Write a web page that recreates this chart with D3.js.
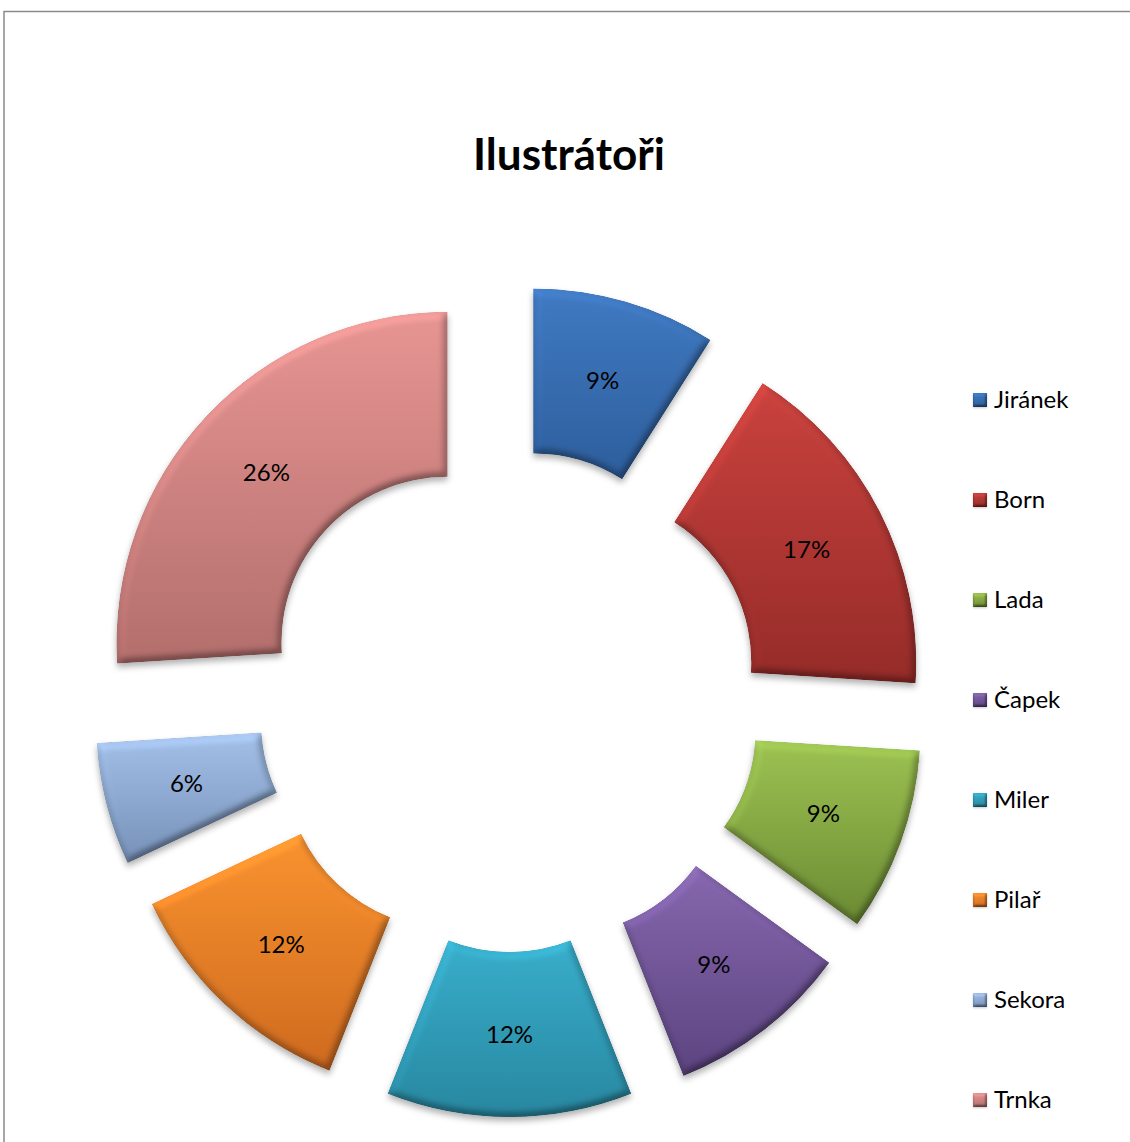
<!DOCTYPE html>
<html>
<head>
<meta charset="utf-8">
<script src="https://cdn.jsdelivr.net/npm/d3@7"></script>
<style>
  html, body { margin: 0; padding: 0; background: #fff; }
  svg { display: block; }
  text { font-family: Lato, "Open Sans", "Liberation Sans", sans-serif; fill: #000; }
</style>
</head>
<body>
<svg id="chart" width="1130" height="1142"></svg>
<script>
// ---- data ----
const title = "Ilustrátoři";
const categories = ["Jiránek", "Born", "Lada", "Čapek", "Miler", "Pilař", "Sekora", "Trnka"];
const shares = [9, 17, 9, 9, 12, 12, 6, 26];   // percent, as labelled

// ---- styles ----
const topColors    = ["#4079c1", "#c9423e", "#9cc151", "#8566ad", "#38adca", "#f7922f", "#a2bfe7", "#e59492"];
const bottomColors = ["#2d5d9b", "#942b28", "#6a8933", "#5b437f", "#28869f", "#cd691f", "#7690b7", "#b26e6c"];

const W = 1130, H = 1142;
const cx = 509.5, cy = 701, R = 331, r0 = 166, explode = 85;

const svg = d3.select("#chart");
const defs = svg.append("defs");

// bevel + shadow filter
function makeFilter(id, blur, scale, shadowBlur, shadowDy, shadowOp) {
  const f = defs.append("filter").attr("id", id)
    .attr("x", "-15%").attr("y", "-15%").attr("width", "130%").attr("height", "135%")
    .attr("color-interpolation-filters", "sRGB");
  f.append("feGaussianBlur").attr("in", "SourceAlpha").attr("stdDeviation", blur).attr("result", "b");
  const dl = f.append("feDiffuseLighting").attr("in", "b").attr("surfaceScale", scale)
    .attr("diffuseConstant", 1).attr("lighting-color", "#ffffff").attr("result", "light");
  dl.append("feDistantLight").attr("azimuth", 240).attr("elevation", 60);
  f.append("feComposite").attr("in", "SourceGraphic").attr("in2", "light")
    .attr("operator", "arithmetic").attr("k1", 0.62).attr("k2", 0.47).attr("k3", 0).attr("k4", 0).attr("result", "lit");
  f.append("feComposite").attr("in", "lit").attr("in2", "SourceAlpha").attr("operator", "in").attr("result", "litc");
  f.append("feGaussianBlur").attr("in", "SourceAlpha").attr("stdDeviation", shadowBlur).attr("result", "sb");
  f.append("feOffset").attr("in", "sb").attr("dx", 0).attr("dy", shadowDy).attr("result", "so");
  f.append("feFlood").attr("flood-color", "#000").attr("flood-opacity", shadowOp).attr("result", "fc");
  f.append("feComposite").attr("in", "fc").attr("in2", "so").attr("operator", "in").attr("result", "shadow");
  const m = f.append("feMerge");
  m.append("feMergeNode").attr("in", "shadow");
  m.append("feMergeNode").attr("in", "litc");
}
makeFilter("bevel", 4, 5, 3, 4, 0.3);
makeFilter("bevelSmall", 1.5, 3, 1, 1, 0.2);

// gradients
categories.forEach((c, i) => {
  const g = defs.append("linearGradient").attr("id", "grad" + i)
    .attr("x1", 0).attr("y1", 0).attr("x2", 0).attr("y2", 1);
  g.append("stop").attr("offset", "0%").attr("stop-color", topColors[i]);
  g.append("stop").attr("offset", "100%").attr("stop-color", bottomColors[i]);
});

// frame
svg.append("rect")
  .attr("x", 4).attr("y", 11.5).attr("width", W + 20).attr("height", H + 20)
  .attr("fill", "none").attr("stroke", "#8a8a8a").attr("stroke-width", 1.5);

// title
const titleText = svg.append("text")
  .attr("x", 569).attr("y", 170)
  .attr("text-anchor", "middle")
  .style("font-weight", "bold").style("font-size", "43px")
  .text(title);
const tw = titleText.node().getComputedTextLength();
if (tw > 0) titleText.style("font-size", (43 * 192 / tw).toFixed(1) + "px");

// pie
const pie = d3.pie().sort(null).value(d => d.value);
const arcs = pie(categories.map((c, i) => ({ name: c, value: shares[i], i })));
const arc = d3.arc().innerRadius(r0).outerRadius(R);
const labelArc = d3.arc().innerRadius((r0 + R) / 2).outerRadius((r0 + R) / 2);

const g = svg.append("g").attr("transform", `translate(${cx},${cy})`);
const slices = g.selectAll("g.slice").data(arcs).join("g")
  .attr("class", "slice")
  .attr("transform", d => {
    const a = (d.startAngle + d.endAngle) / 2;
    return `translate(${explode * Math.sin(a)},${-explode * Math.cos(a)})`;
  });

slices.append("path")
  .attr("d", arc)
  .attr("fill", d => `url(#grad${d.data.i})`)
  .attr("filter", "url(#bevel)");

slices.append("text")
  .attr("transform", d => `translate(${labelArc.centroid(d)})`)
  .attr("text-anchor", "middle")
  .attr("dy", "0.35em")
  .style("font-size", "24px")
  .text(d => d.data.value + "%");

// legend
const ly = d3.scalePoint().domain(categories).range([400, 1100]);
const legend = svg.append("g").selectAll("g").data(categories).join("g")
  .attr("transform", d => `translate(973,${ly(d)})`);
legend.append("rect")
  .attr("x", 0).attr("y", -7).attr("width", 14).attr("height", 14)
  .attr("fill", (d, i) => `url(#grad${i})`)
  .attr("filter", "url(#bevelSmall)");
legend.append("text")
  .attr("x", 21).attr("y", 0).attr("dy", "0.35em")
  .style("font-size", "24px")
  .text(d => d);
</script>
</body>
</html>
